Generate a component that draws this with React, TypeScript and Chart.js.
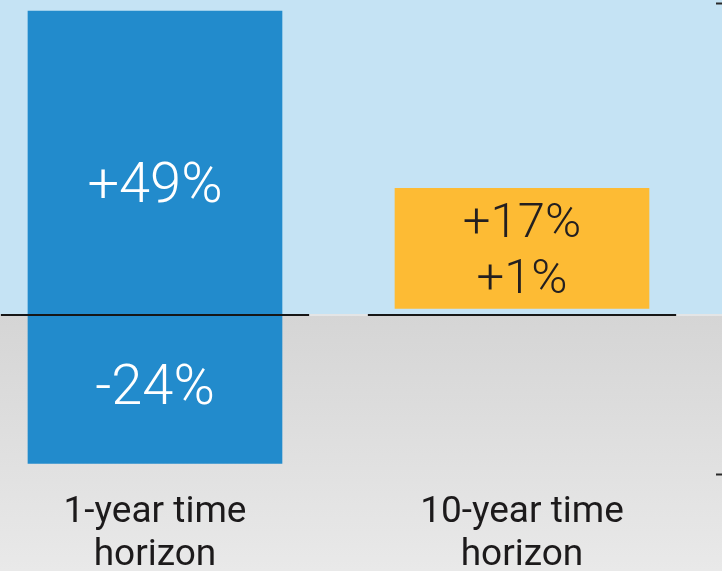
import React, { useEffect, useRef } from "react";
import { Chart, registerables } from "chart.js";

Chart.register(...registerables);

// ---- data ----
const categories = [
  ["1-year time", "horizon"],
  ["10-year time", "horizon"],
];
const positions = [0, 1];
const lows = [-24, 1];
const highs = [49, 20.4];
const highLabels = ["+49%", "+17%"];
const lowLabels = ["-24%", "+1%"];
const yTickValues = [50.3, -25.7];
const barColors = ["#228bcc", "#fdbb34"];
const labelColors = ["#ffffff", "#231f20"];

const X_MIN = -0.4223;
const X_MAX = 1.5286;
const Y_MIN = -25.7;
const Y_MAX = 50.3;

export default function App() {
  const ref = useRef<HTMLCanvasElement>(null);

  useEffect(() => {
    document.body.style.margin = "0";
    const canvas = ref.current!;

    const plugin = {
      id: "decor",
      beforeDraw(chart: any) {
        const { ctx, width, height } = chart;
        const yb = Math.round(chart.scales.y.getPixelForValue(0));
        ctx.save();
        ctx.fillStyle = "#c5e3f4";
        ctx.fillRect(0, 0, width, yb);
        const g = ctx.createLinearGradient(0, yb, 0, height);
        g.addColorStop(0, "#d5d5d5");
        g.addColorStop(1, "#e9e9e9");
        ctx.fillStyle = g;
        ctx.fillRect(0, yb, width, height - yb);
        ctx.fillStyle = "#e3e5e6";
        ctx.fillRect(0, yb - 1, width, 2);
        ctx.restore();
      },
      afterDatasetsDraw(chart: any) {
        const { ctx } = chart;
        const xs = chart.scales.x;
        const ys = chart.scales.y;
        const zero = ys.getPixelForValue(0);
        const y0 = Math.round(zero);
        ctx.save();
        ctx.fillStyle = "#161616";
        positions.forEach((p) => {
          const a = xs.getPixelForValue(p - 0.42);
          const b = xs.getPixelForValue(p + 0.42);
          ctx.fillRect(a, y0 - 1, b - a, 2);
        });
        ctx.textAlign = "center";
        ctx.textBaseline = "middle";
        positions.forEach((p, i) => {
          const x = xs.getPixelForValue(p);
          const top = ys.getPixelForValue(highs[i]);
          const bot = ys.getPixelForValue(lows[i]);
          ctx.fillStyle = labelColors[i];
          if (lows[i] < 0) {
            ctx.font = "300 56px Roboto";
            ctx.fillText(highLabels[i], x, top + 0.57 * (zero - top) + 4);
            ctx.fillText(lowLabels[i], x, zero + 0.48 * (bot - zero) + 4);
          } else {
            ctx.font = "300 49px Roboto";
            const mid = (top + bot) / 2;
            ctx.fillText(highLabels[i], x, mid - 24);
            ctx.fillText(lowLabels[i], x, mid + 32);
          }
        });
        ctx.restore();
      },
    };

    const chart = new Chart(canvas, {
      type: "bar",
      data: {
        datasets: [
          {
            data: positions.map((p, i) => ({ x: p, y: [lows[i], highs[i]] })) as any,
            backgroundColor: barColors,
            borderWidth: 0,
            barThickness: 254,
          },
        ],
      },
      options: {
        responsive: false,
        animation: false,
        devicePixelRatio: 1,
        layout: { padding: { top: 3, left: 0, right: 0, bottom: 0 } },
        plugins: {
          legend: { display: false },
          tooltip: { enabled: false },
        },
        scales: {
          x: {
            type: "linear",
            offset: false,
            min: X_MIN,
            max: X_MAX,
            grid: { display: false, drawTicks: false, offset: false },
            border: { display: false },
            afterBuildTicks: (s: any) => {
              s.ticks = positions.map((v) => ({ value: v }));
            },
            afterFit: (s: any) => {
              s.height = 97;
            },
            ticks: {
              autoSkip: false,
              maxRotation: 0,
              minRotation: 0,
              padding: 18,
              color: "#1c1a1b",
              font: { family: "Roboto", size: 37, lineHeight: 1.14 },
              callback: (v: any) => categories[Math.round(Number(v))] as any,
            },
          },
          y: {
            type: "linear",
            position: "right",
            min: Y_MIN,
            max: Y_MAX,
            afterBuildTicks: (s: any) => {
              s.ticks = yTickValues.map((v) => ({ value: v }));
            },
            afterFit: (s: any) => {
              s.width = 6;
            },
            grid: {
              drawOnChartArea: false,
              drawTicks: true,
              tickLength: 6,
              tickColor: "#2a2a2a",
              tickWidth: 2,
            },
            border: { display: false },
            ticks: { display: false },
          },
        },
      },
      plugins: [plugin],
    });

    return () => chart.destroy();
  }, []);

  return (
    <div style={{ width: 722, height: 571 }}>
      <canvas ref={ref} width={722} height={571} style={{ display: "block" }} />
    </div>
  );
}
